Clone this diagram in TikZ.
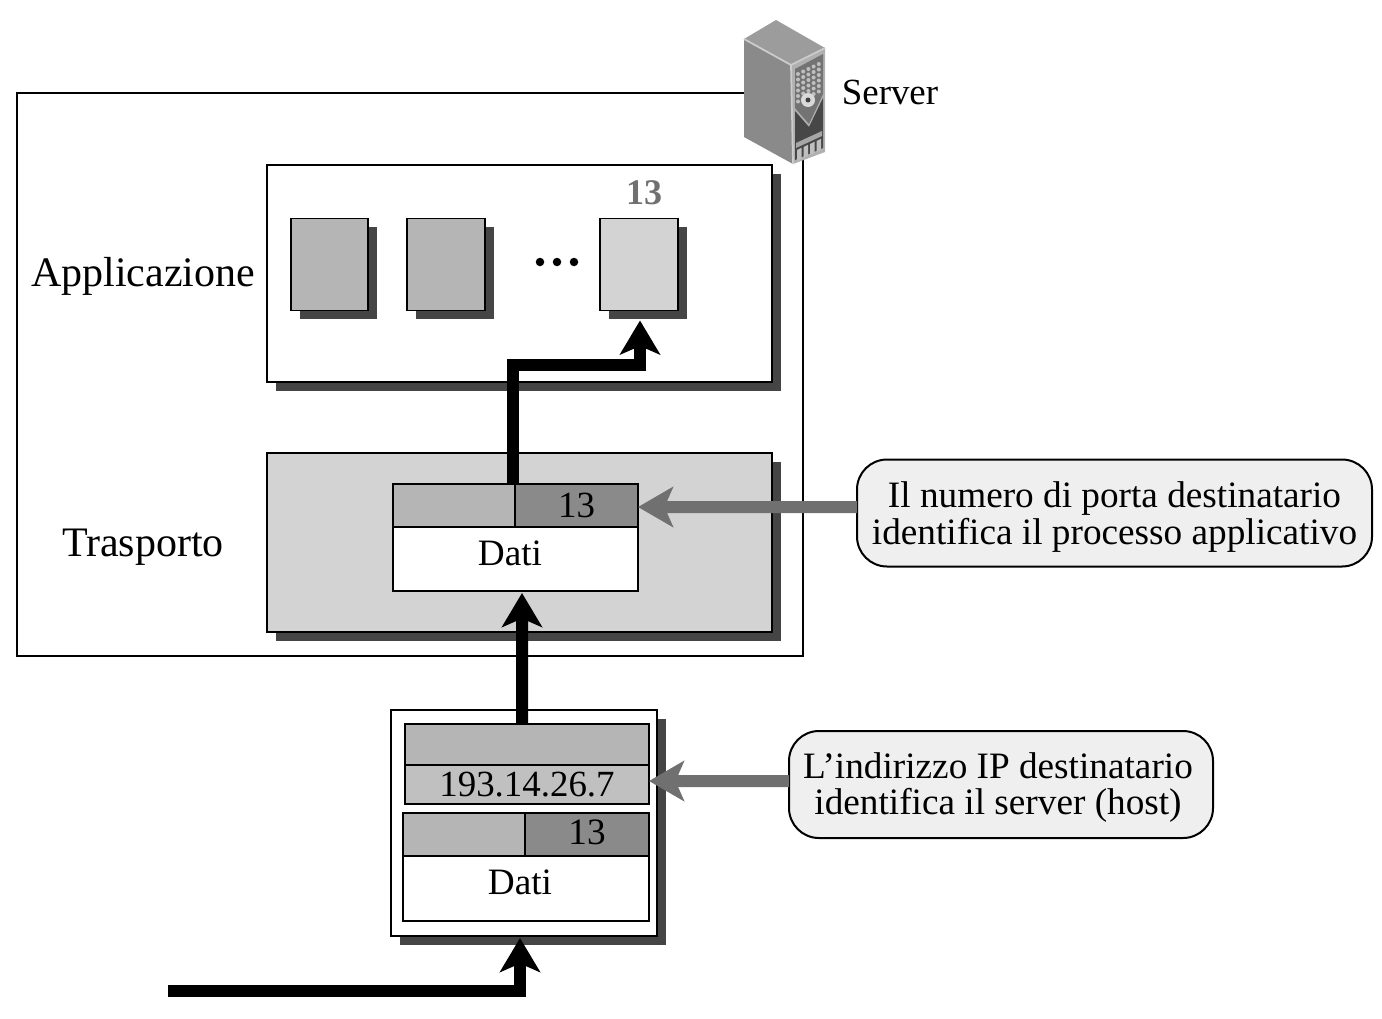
\documentclass[tikz,border=0pt]{standalone}
\usepackage{fontspec}
\setmainfont{Liberation Serif}
\usetikzlibrary{arrows.meta,shadows,positioning}
\definecolor{shadowgray}{HTML}{454545}
\definecolor{lightfill}{HTML}{D3D3D3}
\definecolor{midfill}{HTML}{B5B5B5}
\definecolor{darkfill}{HTML}{8A8A8A}
\definecolor{notegray}{HTML}{707070}
\definecolor{notefill}{HTML}{EFEFEF}
\tikzset{
  wh/.style 2 args={minimum width=#1*0.02cm,minimum height=#2*0.02cm},
  plainbox/.style={draw=black,line width=0.035cm,inner sep=0pt,outer sep=0pt,fill=white,font=\fontsize{21}{21}\selectfont},
  shadowbox/.style={plainbox,drop shadow={shadow xshift=0.17cm,shadow yshift=-0.17cm,fill=shadowgray,opacity=1}},
  layertext/.style={font=\fontsize{23.9}{24}\selectfont,inner sep=0pt},
  bodytext/.style={font=\fontsize{21.2}{21}\selectfont,inner sep=0pt,align=center},
  notebox/.style={draw=black,line width=0.04cm,rounded corners=0.6cm,fill=notefill,inner sep=0pt,outer sep=0pt},
  blackarrow/.style={line width=0.24cm,black,-{Stealth[length=0.68cm,width=0.8cm,inset=0.17cm]}},
  grayarrow/.style={line width=0.24cm,notegray,-{Stealth[length=0.7cm,width=0.8cm,inset=0.17cm]}},
}
\begin{document}
\begin{tikzpicture}[x=0.02cm,y=-0.02cm]
\useasboundingbox (0,0) rectangle (1382,1018);
% server frame and layers
\node[plainbox,wh={786}{563}] (serverbox) at (410,374.5) {};
\node[shadowbox,wh={505}{217}] (appbox) at (519.5,273.5) {};
\node[shadowbox,wh={505}{179},fill=lightfill] (transbox) at (519.5,542.5) {};
\node[layertext] (applabel) at (143,276) {Applicazione};
\node[layertext] (translabel) at (143,547) {Trasporto};
% processes
\node[shadowbox,wh={77}{92},fill=midfill] (proca) at (329.5,264.5) {};
\node[shadowbox,wh={78}{92},fill=midfill] (procb) at (446,264.5) {};
\node[shadowbox,wh={78}{92},fill=lightfill] (procc) at (639,264.5) {};
\node[font=\bfseries\fontsize{20.5}{21}\selectfont,text=notegray,inner sep=0pt] (portlabel) at (644,193) {13};
\foreach \x in {540,557,574}
  \fill[black] (\x,262) circle (0.085cm);
% segment in the transport layer
\node[plainbox,wh={122}{43},fill=midfill] (hdrsrc) at (454,505.5) {};
\node[plainbox,wh={123}{43},fill=darkfill] (hdrport) at (576.5,505.5) {13};
\node[plainbox,wh={245}{64}] (datibox) at (515.5,559) {};
\node[bodytext] (datitext) at (510,553) {Dati};
% packet
\node[shadowbox,wh={266}{226}] (framebox) at (524,823) {};
\node[plainbox,wh={244}{41},fill=midfill] (ipsrc) at (527,744.5) {};
\node[plainbox,wh={244}{39},fill=midfill!85!white] (ipdst) at (527,784.5) {193.14.26.7};
\node[plainbox,wh={122}{43},fill=midfill] (hdrsrcb) at (464,834.5) {};
\node[plainbox,wh={124}{43},fill=darkfill] (hdrportb) at (587,834.5) {};
\node[bodytext] (porttextb) at (587,832.5) {13};
\node[plainbox,wh={246}{65}] (datiboxb) at (526,888.5) {};
\node[bodytext] (datitextb) at (520,882) {Dati};
% notes
\node[notebox,wh={515}{107}] (noteport) at (1114.5,513) {};
\node[bodytext] (noteporttext) at (1114.5,517) {Il numero di porta destinatario\\identifica il processo applicativo};
\node[notebox,wh={424}{107}] (noteip) at (1001,784.5) {};
\node[bodytext] (noteiptext) at (998,787.5) {L’indirizzo IP destinatario\\identifica il server (host)};
% connectors
\draw[blackarrow] ([xshift=-0.04cm]hdrsrc.north east) -- ++(0,-119) -| ([xshift=0.02cm,yshift=-0.2cm]procc.south);
\draw[blackarrow] ([xshift=-0.1cm]ipsrc.north) -- ([xshift=0.13cm,yshift=-0.04cm]datibox.south);
\coordinate (netin) at (168,991);
\draw[blackarrow] (netin) -| ([xshift=-0.08cm,yshift=-0.04cm]framebox.south);
\draw[grayarrow] (noteport.west |- hdrport.east) ++(0,1.5) -- ([yshift=-0.03cm]hdrport.east);
\draw[grayarrow] (noteip.west |- ipdst.east) ++(0,-3.5) -- ([yshift=0.07cm]ipdst.east);
% server icon
\fill[gray!78] (744,39) -- (776,20) -- (825,48) -- (791,65) -- cycle;
\fill[gray!92] (744,39) -- (791,65) -- (793,164) -- (744,137) -- cycle;
\fill[gray!62] (791,65) -- (825,48) -- (825,152) -- (793,164) -- cycle;
\draw[white!80!black,line width=0.035cm] (744,39) -- (791,65) -- (825,48) (791,65) -- (793,164);
\fill[black!55] (795,69) -- (823,54) -- (823,94) -- (809,124) -- (795,108) -- cycle;
\fill[black!72] (795,111) -- (809,127) -- (823,98) -- (823,148) -- (795,160) -- cycle;
\foreach \i in {0,...,4}
  \foreach \j in {0,...,5}
    \fill[gray!50] ({798+5.2*\i},{74+5.5*\j-2.5*\i}) circle (0.04cm);
\fill[gray!30] (808,100) circle (0.14cm);
\fill[black!75] (808,100) circle (0.05cm);
\fill[black!35] (796,143) -- (822,131) -- (822,136) -- (796,148) -- cycle;
\foreach \i in {0,...,3}
  \fill[gray!50] ({797+6.5*\i},{150-3*\i}) -- ++(4.5,-2.2) -- ++(0,11) -- ++(-4.5,2.2) -- cycle;
\node[font=\fontsize{21}{21}\selectfont,inner sep=0pt] (serverlabel) at (890,92) {Server};
\end{tikzpicture}
\end{document}
